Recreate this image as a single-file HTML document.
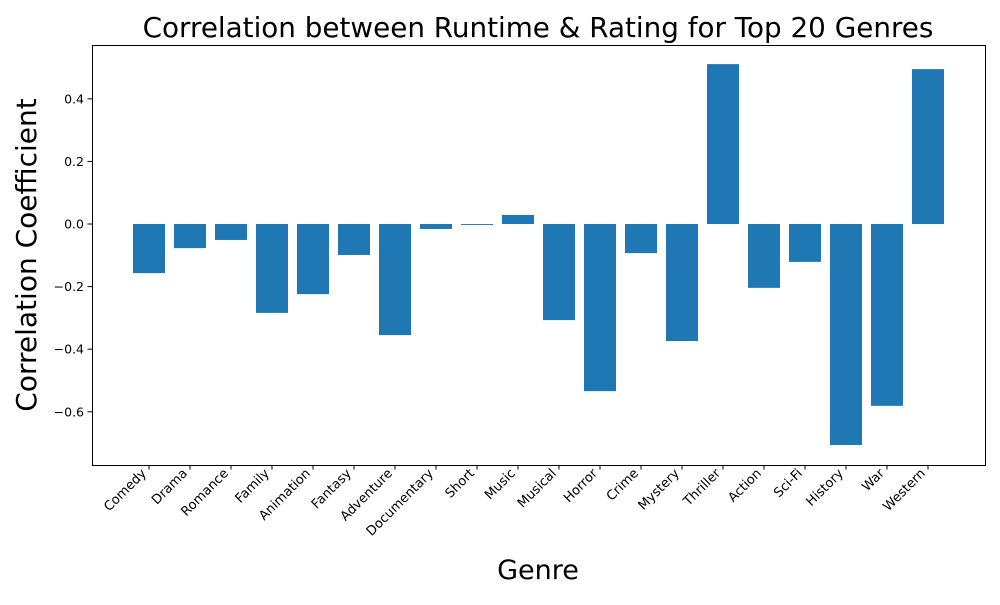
<!DOCTYPE html>
<html><head><meta charset="utf-8"><style>
body{margin:0;background:#fff;font-family:"Liberation Sans","DejaVu Sans",sans-serif}
</style></head><body>
<svg id="chart" width="1000" height="600" xmlns="http://www.w3.org/2000/svg">
<text x="538" y="37" font-size="27.8" text-anchor="middle" font-family="DejaVu Sans, sans-serif">Correlation between Runtime &amp; Rating for Top 20 Genres</text>
<text x="538" y="579" font-size="27" text-anchor="middle" font-family="DejaVu Sans, sans-serif">Genre</text>
<text transform="translate(36,255) rotate(-90)" font-size="28" text-anchor="middle" font-family="DejaVu Sans, sans-serif">Correlation Coefficient</text>
<g id="bars"></g><g id="axes"></g>
<rect x="92.5" y="45.5" width="893" height="420" fill="none" stroke="#000" stroke-width="1"/>
</svg>
<script>
const categories=["Comedy","Drama","Romance","Family","Animation","Fantasy","Adventure","Documentary","Short","Music","Musical","Horror","Crime","Mystery","Thriller","Action","Sci-Fi","History","War","Western"];
const values=[-0.157,-0.077,-0.051,-0.284,-0.224,-0.099,-0.355,-0.016,-0.003,0.029,-0.307,-0.534,-0.093,-0.374,0.511,-0.204,-0.121,-0.706,-0.581,0.495];
const yTicks=[-0.6,-0.4,-0.2,0.0,0.2,0.4];
const NS="http://www.w3.org/2000/svg";
const yMin=-0.770,yMax=0.572,yTop=45,yBot=465;
function y(v){return yTop+(yMax-v)/(yMax-yMin)*(yBot-yTop);}
function x(i){return 149+i*41;}
const bars=document.getElementById('bars'),axes=document.getElementById('axes');
function mk(t,a,p){const e=document.createElementNS(NS,t);for(const k in a)e.setAttribute(k,a[k]);p.appendChild(e);return e;}
values.forEach((v,i)=>{
 const r=mk('rect',{x:x(i)-16,y:Math.min(y(v),y(0)),width:32,height:Math.max(Math.abs(y(v)-y(0)),0.5),fill:'#1f77b4'},bars);
 
 
 mk('line',{x1:x(i),x2:x(i),y1:465,y2:469.5,stroke:'#000'},axes);
 const t=mk('text',{x:0,y:0,'font-size':13,'text-anchor':'end',transform:`translate(${x(i)-2},${474}) rotate(-45)`,'font-family':'DejaVu Sans, sans-serif'},axes);
 t.textContent=categories[i];
 
 
});
yTicks.forEach(v=>{
 const yy=y(v);
 mk('line',{x1:87.5,x2:92,y1:yy,y2:yy,stroke:'#000'},axes);
 const t=mk('text',{x:84,y:yy+4.5,'font-size':12.5,'text-anchor':'end','font-family':'DejaVu Sans, sans-serif'},axes);
 t.textContent=(v<0?'\u22120':'0')+'.'+Math.round(Math.abs(v)*10);
 
 
});
</script>
</body></html>
